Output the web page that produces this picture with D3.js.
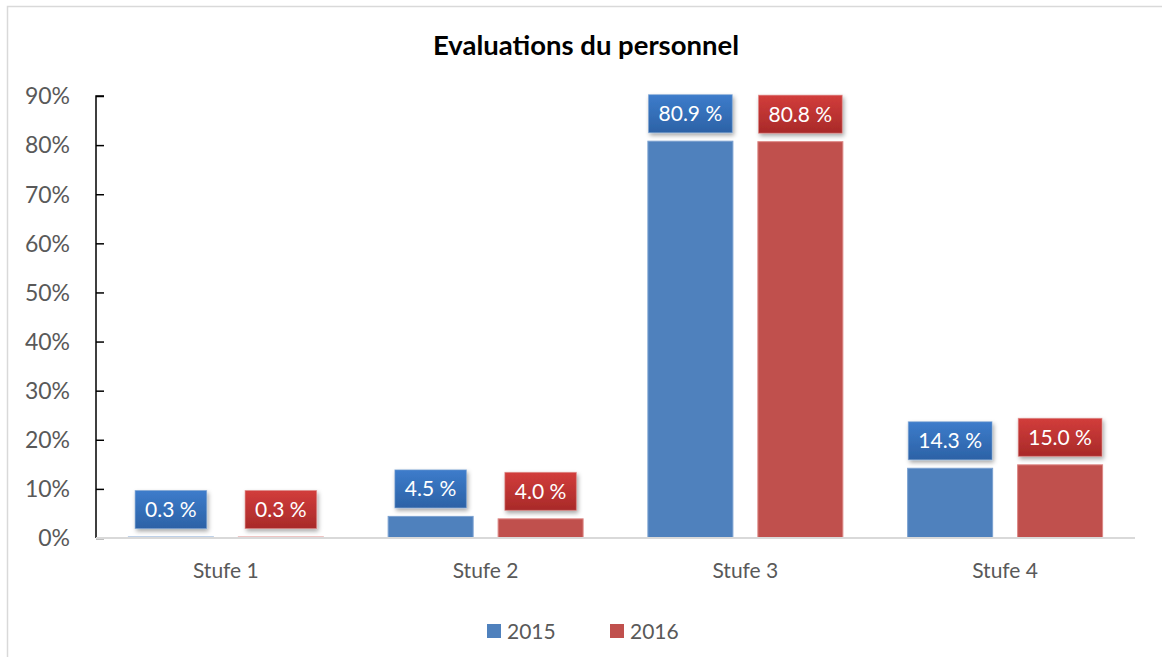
<!DOCTYPE html>
<html>
<head>
<meta charset="utf-8">
<script src="https://cdn.jsdelivr.net/npm/d3@7.9.0/dist/d3.min.js"></script>
<style>
  html, body { margin: 0; padding: 0; background: #fff; }
  svg { display: block; font-family: Lato, "Open Sans", sans-serif; }
</style>
</head>
<body>
<svg id="chart" width="1162" height="657"></svg>
<script>
const categories = ["Stufe 1", "Stufe 2", "Stufe 3", "Stufe 4"];
const seriesNames = ["2015", "2016"];
const values2015 = [0.3, 4.5, 80.9, 14.3];
const values2016 = [0.3, 4.0, 80.8, 15.0];
const yTicks = [0, 10, 20, 30, 40, 50, 60, 70, 80, 90];

const colors = { "2015": "#4f81bd", "2016": "#c0504d" };
const edgeColors = { "2015": "#7aa0d0", "2016": "#dc8785" };
const boxTop = { "2015": "#3d7ccb", "2016": "#d23d3b" };
const boxBottom = { "2015": "#2c62a6", "2016": "#a82a29" };

const svg = d3.select("#chart");

// outer frame (only the top/left edges are visible in the picture)
svg.append("rect")
    .attr("x", 7.5).attr("y", 6.5)
    .attr("width", 1200).attr("height", 700)
    .attr("fill", "none")
    .attr("stroke", "#d9d9d9")
    .attr("stroke-width", 1.5);

const defs = svg.append("defs");
defs.append("filter")
    .attr("id", "shadow")
    .attr("x", "-20%").attr("y", "-20%")
    .attr("width", "150%").attr("height", "160%")
    .append("feDropShadow")
    .attr("dx", 1.5).attr("dy", 2.5)
    .attr("stdDeviation", 2)
    .attr("flood-color", "#000")
    .attr("flood-opacity", 0.35);

seriesNames.forEach(s => {
    let g = defs.append("linearGradient")
        .attr("id", "grad" + s)
        .attr("x1", 0).attr("y1", 0).attr("x2", 0).attr("y2", 1);
    g.append("stop").attr("offset", "0%").attr("stop-color", boxTop[s]);
    g.append("stop").attr("offset", "100%").attr("stop-color", boxBottom[s]);
});

const plotLeft = 96, plotRight = 1135, plotTop = 96, plotBottom = 538;

const y = d3.scaleLinear().domain([0, 90]).range([plotBottom, plotTop]);
const x = d3.scaleBand().domain(categories).range([plotLeft, plotRight]).padding(0);
const xInner = d3.scaleBand().domain(seriesNames)
    .range([0, x.bandwidth()])
    .paddingInner(0.218)
    .paddingOuter(0.29);

// title
svg.append("text")
    .attr("x", 586).attr("y", 55)
    .attr("text-anchor", "middle")
    .attr("font-size", 27.5)
    .attr("font-weight", "bold")
    .attr("fill", "#000")
    .text("Evaluations du personnel");

// y axis
const yAxis = svg.append("g")
    .attr("transform", `translate(${plotLeft},0)`)
    .call(d3.axisRight(y).tickValues(yTicks).tickSize(8).tickFormat(""));
yAxis.select(".domain").attr("stroke", "#000").attr("stroke-width", 1.5)
    .attr("d", `M8,${plotTop}H0V${plotBottom}`);
yAxis.selectAll(".tick line").attr("stroke", "#000").attr("stroke-width", 1.5);

svg.append("g").selectAll("text")
    .data(yTicks)
    .join("text")
    .attr("x", 70)
    .attr("y", d => y(d))
    .attr("dy", "0.36em")
    .attr("text-anchor", "end")
    .attr("font-size", 23)
    .attr("fill", "#595959")
    .text(d => d + "%");

// bars
const rows = seriesNames.map((s, i) => ({
    name: s,
    values: i === 0 ? values2015 : values2016
}));

const groups = svg.append("g").selectAll("g")
    .data(rows)
    .join("g");

groups.selectAll("rect")
    .data(r => r.values.map((v, i) => ({ series: r.name, cat: categories[i], value: v })))
    .join("rect")
    .attr("x", d => x(d.cat) + xInner(d.series) + 0.5)
    .attr("y", d => y(d.value) + 0.5)
    .attr("width", xInner.bandwidth() - 1)
    .attr("height", d => Math.max(0, plotBottom - y(d.value) - 0.5))
    .attr("fill", d => colors[d.series])
    .attr("stroke", d => edgeColors[d.series])
    .attr("stroke-width", 1);

// x baseline
svg.append("line")
    .attr("x1", plotLeft).attr("x2", plotRight)
    .attr("y1", plotBottom).attr("y2", plotBottom)
    .attr("stroke", "#d9d9d9")
    .attr("stroke-width", 2);

// category labels
svg.append("g").selectAll("text")
    .data(categories)
    .join("text")
    .attr("x", d => x(d) + x.bandwidth() / 2)
    .attr("y", 578)
    .attr("text-anchor", "middle")
    .attr("font-size", 21)
    .attr("fill", "#595959")
    .text(d => d);

// data label boxes
const labels = svg.append("g").selectAll("g")
    .data(rows.flatMap(r => r.values.map((v, i) => ({ series: r.name, cat: categories[i], value: v }))))
    .join("g")
    .attr("transform", d => `translate(${x(d.cat) + xInner(d.series) + xInner.bandwidth() / 2},${y(d.value) - 8})`);

labels.each(function (d) {
    let g = d3.select(this);
    let t = g.append("text")
        .attr("text-anchor", "middle")
        .attr("y", -19)
        .attr("dy", "0.36em")
        .attr("font-size", 21)
        .attr("fill", "#fff")
        .text(d.value.toFixed(1) + " %");
    let w = t.node().getComputedTextLength() + 20;
    g.insert("rect", "text")
        .attr("x", -w / 2).attr("y", -38)
        .attr("width", w).attr("height", 38)
        .attr("fill", `url(#grad${d.series})`)
        .attr("stroke", edgeColors[d.series])
        .attr("stroke-opacity", 0.6)
        .attr("filter", "url(#shadow)");
});

// legend
const legend = svg.append("g").selectAll("g")
    .data(seriesNames)
    .join("g")
    .attr("transform", (d, i) => `translate(${487 + i * 123},624)`);
legend.append("rect")
    .attr("width", 14).attr("height", 14)
    .attr("fill", d => colors[d]);
legend.append("text")
    .attr("x", 20).attr("y", 7)
    .attr("dy", "0.36em")
    .attr("font-size", 21)
    .attr("fill", "#595959")
    .text(d => d);
</script>
</body>
</html>
